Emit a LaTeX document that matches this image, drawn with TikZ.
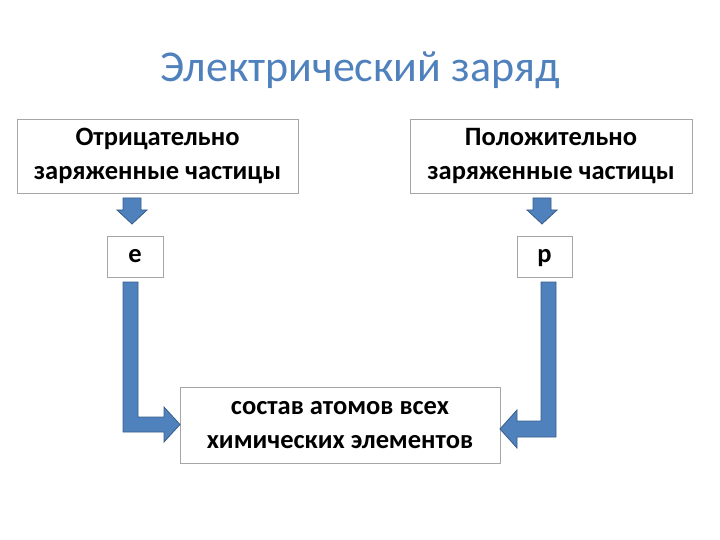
\documentclass[tikz,border=0pt]{standalone}
\usepackage{fontspec}
\setmainfont{Carlito}
\begin{document}
\begin{tikzpicture}[x=1pt,y=-1pt,
  box/.style={draw=black!35,line width=0.6pt,fill=white,align=center,font=\fontsize{26.5}{34}\selectfont\bfseries,inner sep=0pt},
  barrow/.style={fill={rgb,255:red,79;green,129;blue,189},draw={rgb,255:red,56;green,93;blue,138},line width=0.8pt,line join=miter}]
\useasboundingbox (0,0) rectangle (720,540);
\node[font=\fontsize{44}{48}\selectfont,text={rgb,255:red,79;green,129;blue,189}] (title) at (360,70) {Электрический заряд};
\node[box,minimum width=281pt,minimum height=74pt] (neg) at (157.5,156) {Отрицательно\\заряженные частицы};
\node[box,minimum width=282pt,minimum height=74pt] (pos) at (551,156) {Положительно\\заряженные частицы};
\node[box,minimum width=56pt,minimum height=41pt,text height=12pt,text depth=0pt] (e) at (135,256.5) {е};
\node[box,minimum width=55pt,minimum height=41pt,text height=12pt,text depth=0pt] (p) at (544.5,256.5) {р};
\node[box,minimum width=320pt,minimum height=76pt] (res) at (340,425) {состав атомов всех\\химических элементов};
% small arrows
\draw[barrow] (123,198) -- (141,198) -- (141,210) -- (147,210) -- (132,224) -- (117,210) -- (123,210) -- cycle;
\draw[barrow] (533,198) -- (551,198) -- (551,210) -- (557,210) -- (542,224) -- (527,210) -- (533,210) -- cycle;
% bent arrows
\draw[barrow] (123,282) -- (138,282) -- (138,417) -- (164,417) -- (164,407) -- (180,424.5) -- (164,442) -- (164,432) -- (123,432) -- cycle;
\draw[barrow] (556,282) -- (541,282) -- (541,421) -- (517,421) -- (517,410) -- (500,429) -- (517,448) -- (517,437) -- (556,437) -- cycle;
\end{tikzpicture}
\end{document}
